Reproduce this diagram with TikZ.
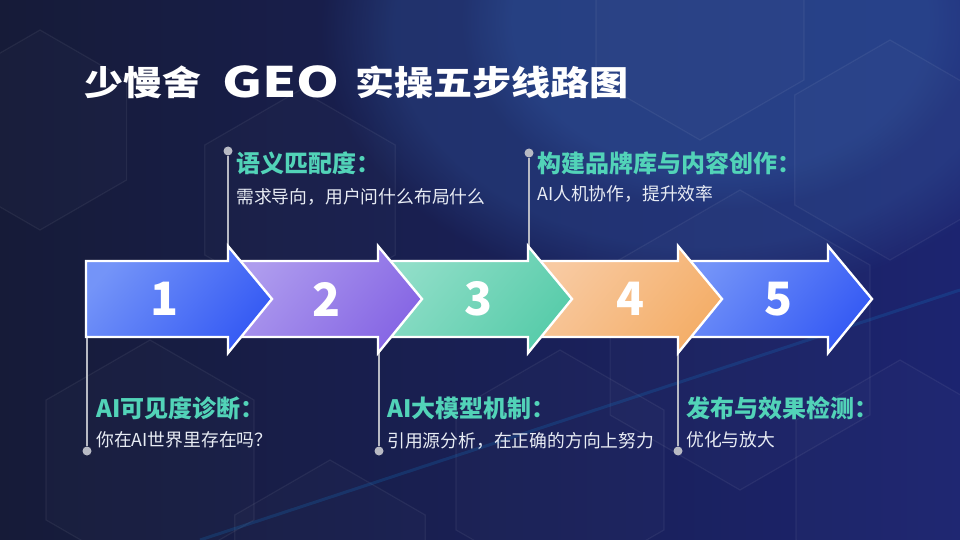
\documentclass[tikz,border=0pt]{standalone}
\usepackage{fontspec}
\setmainfont{Noto Sans CJK SC}
\usetikzlibrary{shapes.geometric,fadings}
\definecolor{bgdark}{HTML}{161B38}
\definecolor{bgblue}{HTML}{1C2470}
\definecolor{bglight}{HTML}{2E5098}
\definecolor{blueA}{HTML}{7494F8}
\definecolor{blueB}{HTML}{355AF4}
\definecolor{purpleA}{HTML}{AE9CEE}
\definecolor{purpleB}{HTML}{8666E4}
\definecolor{tealA}{HTML}{90DEC8}
\definecolor{tealB}{HTML}{58CCAA}
\definecolor{orangeA}{HTML}{F8CAA2}
\definecolor{orangeB}{HTML}{F4AE68}
\definecolor{labelteal}{HTML}{52D3B8}
\definecolor{subwhite}{HTML}{E8ECF4}
\definecolor{leadgray}{HTML}{B8BAC4}

\tikzset{
  hexline/.style={draw=white, draw opacity=0.06, fill=white, fill opacity=0.015,
    regular polygon, regular polygon sides=6, shape border rotate=30, line width=1.2pt},
  stepbox/.style={draw=white, line width=2.4pt, line join=miter},
  num/.style={text=white, font=\bfseries\fontsize{46}{46}\selectfont, inner sep=0pt},
  lead/.style={leadgray, line width=1.6pt},
  dot/.style={circle, fill=leadgray, minimum size=9pt, inner sep=0pt},
  steptitle/.style={anchor=west, inner sep=0pt, text=labelteal, font=\bfseries\fontsize{24}{24}\selectfont},
  stepsub/.style={anchor=west, inner sep=0pt, text=subwhite, font=\fontsize{17.8}{17.8}\selectfont},
  headline/.style={anchor=west, inner sep=0pt, text=white, font=\bfseries\fontsize{34}{34}\selectfont}
}

\begin{document}
\begin{tikzpicture}[x=1pt,y=-1pt]
\useasboundingbox (0,0) rectangle (960,540);
% background
\fill[left color=bgdark, right color=bgblue] (0,0) rectangle (960,540);
\fill[bglight, opacity=0.4, path fading=circle with fuzzy edge 20 percent] (700,30) ellipse (380 and 270);
\fill[bglight, opacity=0.45, path fading=circle with fuzzy edge 20 percent] (720,20) ellipse (260 and 190);
\foreach \cx/\cy/\r [count=\i] in {700/20/120, 890/150/110, 740/340/150, 150/460/120, 330/570/110, 900/480/120, 560/470/120, 40/130/100, 300/200/110}
  \node[hexline, minimum size=2*\r] (h\i) at (\cx,\cy) {};
\draw[cyan!60!blue, opacity=0.22, line width=3pt] (200,540) -- (960,290);

% leads
\node[dot] (d1) at (87,451) {};
\node[dot] (d2) at (228,151) {};
\node[dot] (d3) at (379,451) {};
\node[dot] (d4) at (529,153) {};
\node[dot] (d5) at (678,451) {};
\coordinate (a1) at (87,336);
\coordinate (a2) at (228,250);
\coordinate (a3) at (379,350);
\coordinate (a4) at (529,250);
\coordinate (a5) at (678,350);
\foreach \i in {1,...,5}
  \draw[lead] (d\i) -- (a\i);

% arrows, last one first
\foreach \i/\ca/\cb in {5/blueA/blueB, 4/orangeA/orangeB, 3/tealA/tealB, 2/purpleA/purpleB, 1/blueA/blueB}{
  \pgfmathsetmacro{\hx}{228+150*(\i-1)}
  \pgfmathsetmacro{\bx}{\i==1 ? 86 : \hx-146}
  \draw[stepbox, top color=\ca, bottom color=\cb, shading angle=50]
    (\bx,261) -- (\hx,261) -- (\hx,246) -- (\hx+44,299) -- (\hx,353) -- (\hx,337) -- (\bx,337) -- cycle;
}
\foreach \x/\n in {165/1, 327/2, 478/3, 630/4, 778/5}
  \node[num] (n\n) at (\x,299) {\n};

% title
\node[headline] (title1) at (84,82) {\scalebox{1.15}[1]{少慢舍}};
\node[headline, font=\bfseries\fontsize{42}{42}\selectfont] (geo) at (222,82) {\scalebox{1.3}[1]{GEO}};
\node[headline] (title2) at (355,82) {\scalebox{1.15}[1]{实操五步线路图}};

% labels
\node[steptitle] (t2) at (236,163) {语义匹配度：};
\node[stepsub] (s2) at (236,197) {需求导向，用户问什么布局什么};
\node[steptitle] (t4) at (537,163) {构建品牌库与内容创作：};
\node[stepsub] (s4) at (537,194) {AI人机协作，提升效率};
\node[steptitle] (t1) at (96,408) {AI可见度诊断：};
\node[stepsub] (s1) at (96,440) {你在AI世界里存在吗？};
\node[steptitle] (t3) at (387,408) {AI大模型机制：};
\node[stepsub] (s3) at (387,441) {引用源分析，在正确的方向上努力};
\node[steptitle] (t5) at (686,408) {发布与效果检测：};
\node[stepsub] (s5) at (686,440) {优化与放大};
\end{tikzpicture}
\end{document}
